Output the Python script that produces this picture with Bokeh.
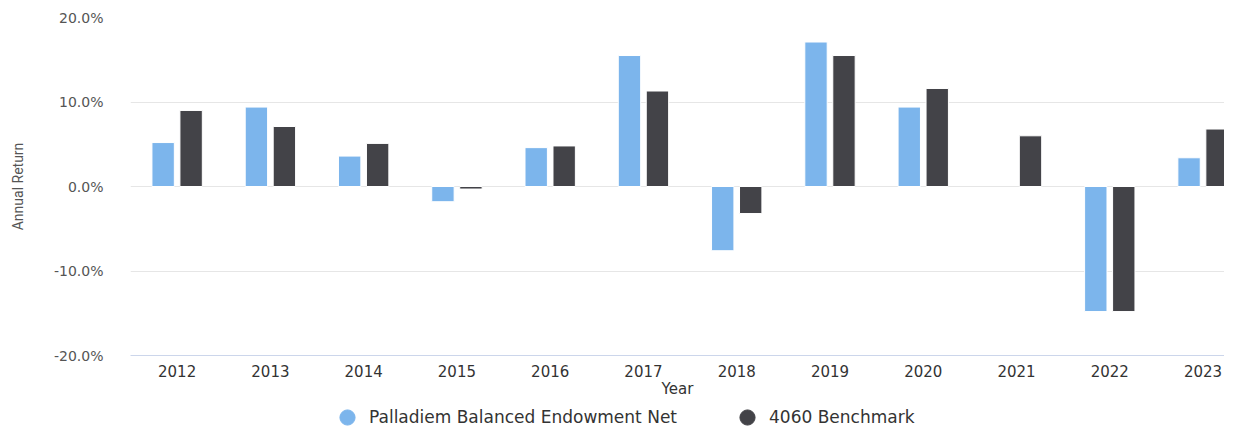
from bokeh.plotting import figure
from bokeh.layouts import column
from bokeh.models import (Range1d, FixedTicker, PrintfTickFormatter, ColumnDataSource,
                          Legend, LegendItem)
from bokeh.embed import file_html
from bokeh.resources import INLINE
import numpy as np

years = ["2012", "2013", "2014", "2015", "2016", "2017", "2018", "2019", "2020", "2021", "2022", "2023"]
palladiem = [5.2, 9.4, 3.6, -1.8, 4.6, 15.5, -7.6, 17.1, 9.4, np.nan, -14.8, 3.4]
benchmark = [9.0, 7.1, 5.1, -0.3, 4.8, 11.3, -3.2, 15.5, 11.6, 6.0, -14.8, 6.8]
y_ticks = [-20, -10, 0, 10, 20]
series_names = ["Palladiem Balanced Endowment Net", "4060 Benchmark"]
colors = ["#7cb5ec", "#434348"]

idx = np.arange(len(years)) + 0.5
offset = 0.15
bar_w = 0.24

p = figure(width=1224, height=400, output_backend="svg", toolbar_location=None,
           x_range=Range1d(0, 11.73), y_range=Range1d(-20, 20),
           min_border_left=130, min_border_right=0, min_border_top=17, min_border_bottom=45)
p.outline_line_color = None
p.background_fill_color = "white"

src1 = ColumnDataSource(dict(x=idx - offset, top=palladiem))
src2 = ColumnDataSource(dict(x=idx + offset, top=benchmark))
p.vbar(x="x", top="top", bottom=0, width=bar_w, source=src1,
       fill_color=colors[0], line_color="white", line_width=1)
p.vbar(x="x", top="top", bottom=0, width=bar_w, source=src2,
       fill_color=colors[1], line_color="white", line_width=1)

# grid
p.xgrid.visible = False
p.ygrid.grid_line_color = "#e6e6e6"
p.ygrid.grid_line_width = 1

# x axis
xa = p.xaxis[0]
xa.ticker = FixedTicker(ticks=list(idx))
xa.major_label_overrides = {float(v): y for v, y in zip(idx, years)}
xa.major_tick_line_color = None
xa.major_tick_out = 0
xa.major_tick_in = 0
xa.minor_tick_line_color = None
xa.minor_tick_out = 0
xa.axis_line_color = "#ccd6eb"
xa.axis_line_width = 1
xa.major_label_standoff = 9
xa.major_label_text_font = "DejaVu Sans"
xa.major_label_text_font_size = "15px"
xa.major_label_text_color = "#333333"
xa.axis_label = "Year"
xa.axis_label_text_font = "DejaVu Sans"
xa.axis_label_text_font_size = "15px"
xa.axis_label_text_font_style = "normal"
xa.axis_label_text_color = "#333333"
xa.axis_label_standoff = 0

# y axis
ya = p.yaxis[0]
ya.ticker = FixedTicker(ticks=y_ticks)
ya.formatter = PrintfTickFormatter(format="%.1f%%")
ya.major_tick_line_color = None
ya.major_tick_out = 0
ya.major_tick_in = 0
ya.minor_tick_line_color = None
ya.minor_tick_out = 0
ya.axis_line_color = None
ya.major_label_standoff = 27
ya.major_label_text_font = "DejaVu Sans"
ya.major_label_text_font_size = "14px"
ya.major_label_text_color = "#555555"
ya.axis_label = "Annual Return"
ya.axis_label_text_font = "Roboto"
ya.axis_label_text_font_size = "14px"
ya.axis_label_text_font_style = "normal"
ya.axis_label_text_color = "#555555"
ya.axis_label_standoff = 25

# legend strip (separate small figure below the chart)
lp = figure(width=1224, height=28, output_backend="svg", toolbar_location=None,
            x_range=Range1d(0, 1), y_range=Range1d(0, 1),
            x_axis_location=None, y_axis_location=None,
            min_border_left=0, min_border_right=0, min_border_top=0, min_border_bottom=0)
lp.outline_line_color = None
lp.grid.visible = False
# proxy markers for the legend (placed outside the visible range)
r1 = lp.scatter(x=[-5], y=[-5], marker="circle", fill_color=colors[0], line_color=colors[0])
r2 = lp.scatter(x=[-5], y=[-5], marker="circle", fill_color=colors[1], line_color=colors[1])

legend = Legend(items=[LegendItem(label=series_names[0], renderers=[r1]),
                       LegendItem(label=series_names[1], renderers=[r2])],
                location=(198, -8), orientation="horizontal", padding=0, margin=0,
                spacing=51, glyph_width=38, glyph_height=38, label_standoff=3,
                label_text_font="DejaVu Sans", label_text_font_size="17px",
                label_text_color="#333333", border_line_color=None,
                background_fill_alpha=0)
lp.add_layout(legend, "center")

layout = column(p, lp, spacing=0)
open("out.html", "w").write(file_html(layout, INLINE))
